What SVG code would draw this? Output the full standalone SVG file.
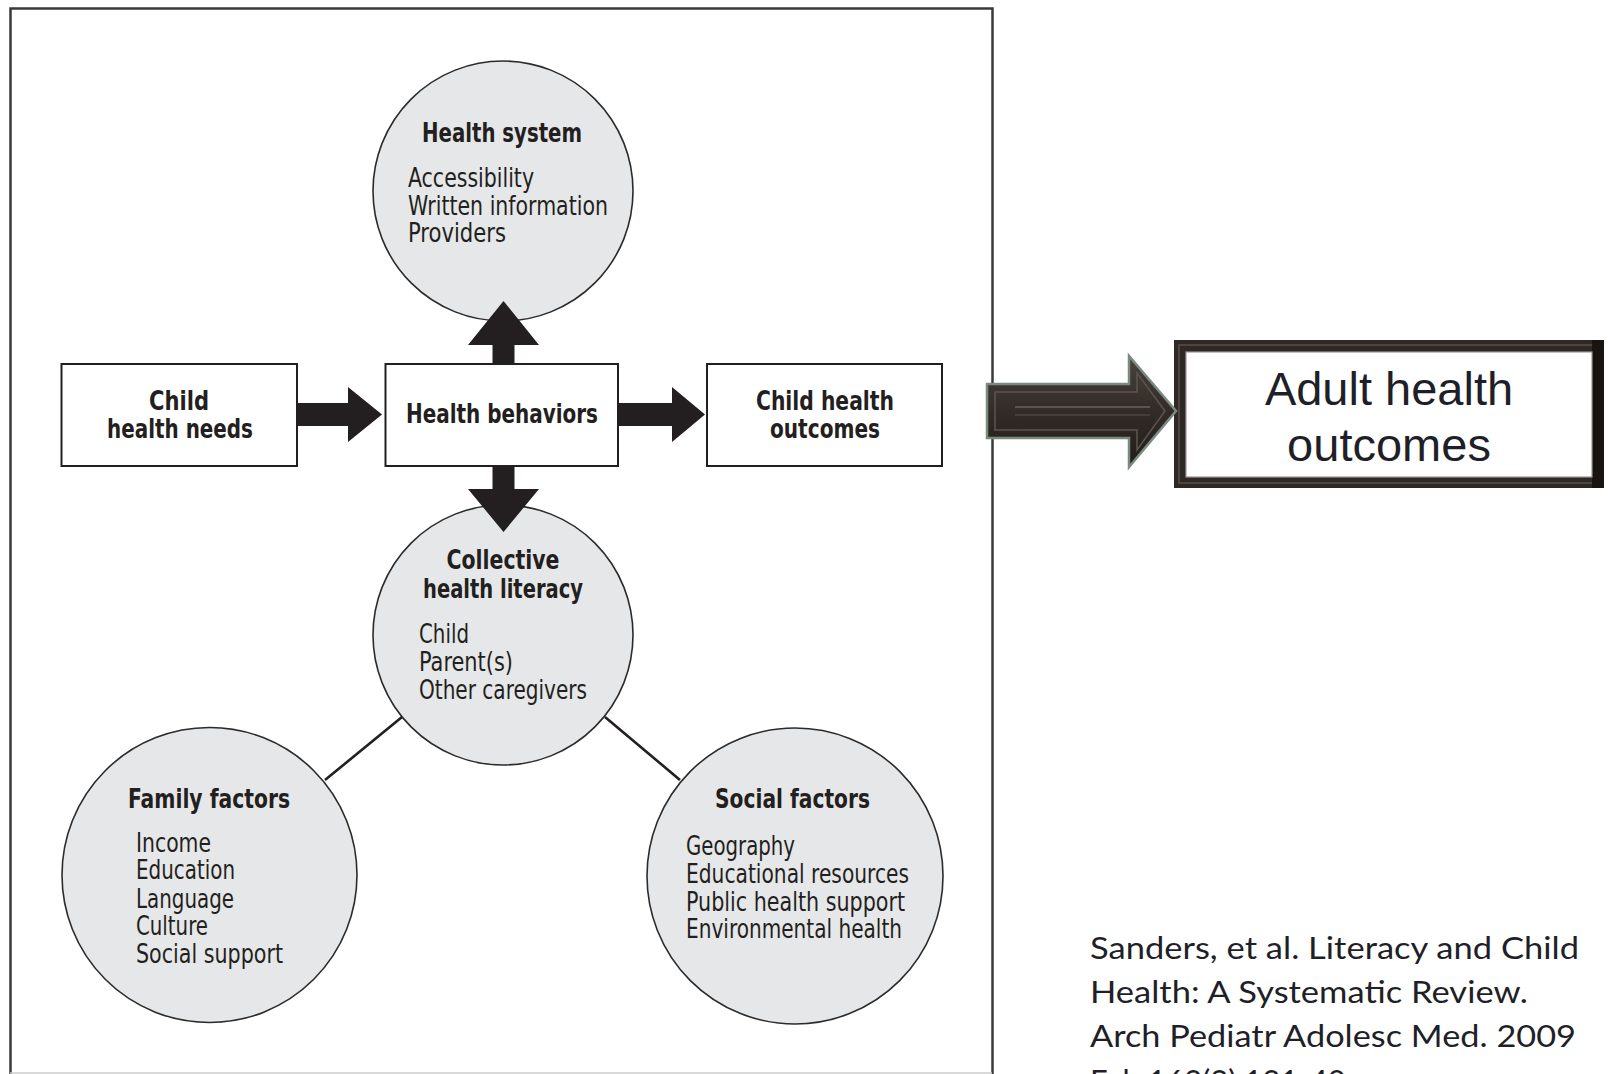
<svg xmlns="http://www.w3.org/2000/svg" width="1608" height="1074" viewBox="0 0 1608 1074">
  <defs>
    <style>
      .frame { fill: none; stroke: #3a3a3a; stroke-width: 2.5; }
      .box { fill: #ffffff; stroke: #231f20; stroke-width: 2; }
      .circ { fill: #e6e7e8; stroke: #2b2b2b; stroke-width: 1.6; }
      .arr { fill: #231f20; }
      .link { stroke: #231f20; stroke-width: 2.6; fill: none; }
      .t { font-family: "Liberation Sans Narrow", "DejaVu Sans Condensed", "Liberation Sans", sans-serif; fill: #231f20; }
      .b { font-weight: bold; font-size: 26px; }
      .r { font-size: 26px; }
      .big { font-family: "Liberation Sans", Arial, sans-serif; font-size: 47px; fill: #1f1f28; }
      .cite { font-family: "Lato", "Open Sans", "Liberation Sans", sans-serif; font-size: 31px; fill: #1f1f28; }
    </style>
    <linearGradient id="shaftG" x1="0" y1="0" x2="0" y2="1">
      <stop offset="0" stop-color="#4a423d"/>
      <stop offset="0.5" stop-color="#332b27"/>
      <stop offset="1" stop-color="#221c19"/>
    </linearGradient>
  </defs>

  <!-- outer frame -->
  <path class="frame" d="M10.5,1074 V8.5 H992.5 V1074"/>
  <line x1="10" y1="1073" x2="992" y2="1073" stroke="#cccccc" stroke-width="1.5"/>

  <g id="health-system">
    <circle class="circ" cx="503" cy="191" r="130"/>
    <text class="t b" x="422" y="142" textLength="160" lengthAdjust="spacingAndGlyphs">Health system</text>
    <text class="t r" x="408" y="187" textLength="126" lengthAdjust="spacingAndGlyphs">Accessibility</text>
    <text class="t r" x="408" y="215" textLength="200" lengthAdjust="spacingAndGlyphs">Written information</text>
    <text class="t r" x="408" y="242" textLength="98" lengthAdjust="spacingAndGlyphs">Providers</text>
  </g>

  <g id="child-health-needs">
    <rect class="box" x="61.5" y="364" width="235.5" height="102"/>
    <text class="t b" x="179" y="410" text-anchor="middle" textLength="60" lengthAdjust="spacingAndGlyphs">Child</text>
    <text class="t b" x="180" y="438" text-anchor="middle" textLength="146" lengthAdjust="spacingAndGlyphs">health needs</text>
  </g>

  <g id="health-behaviors">
    <rect class="box" x="385.5" y="364" width="232.5" height="102"/>
    <text class="t b" x="502" y="423" text-anchor="middle" textLength="192" lengthAdjust="spacingAndGlyphs">Health behaviors</text>
  </g>

  <g id="child-health-outcomes">
    <rect class="box" x="707" y="364" width="235" height="102"/>
    <text class="t b" x="825" y="410" text-anchor="middle" textLength="138" lengthAdjust="spacingAndGlyphs">Child health</text>
    <text class="t b" x="825" y="438" text-anchor="middle" textLength="110" lengthAdjust="spacingAndGlyphs">outcomes</text>
  </g>

  <g id="collective-health-literacy">
    <circle class="circ" cx="503" cy="635" r="130"/>
    <text class="t b" x="503" y="569" text-anchor="middle" textLength="113" lengthAdjust="spacingAndGlyphs">Collective</text>
    <text class="t b" x="503" y="598" text-anchor="middle" textLength="160" lengthAdjust="spacingAndGlyphs">health literacy</text>
    <text class="t r" x="419" y="643" textLength="50" lengthAdjust="spacingAndGlyphs">Child</text>
    <text class="t r" x="419" y="671" textLength="94" lengthAdjust="spacingAndGlyphs">Parent(s)</text>
    <text class="t r" x="419" y="699" textLength="168" lengthAdjust="spacingAndGlyphs">Other caregivers</text>
  </g>

  <g id="family-factors">
    <circle class="circ" cx="209.5" cy="875" r="147.5"/>
    <text class="t b" x="128" y="808" textLength="162" lengthAdjust="spacingAndGlyphs">Family factors</text>
    <text class="t r" x="136" y="852" textLength="75" lengthAdjust="spacingAndGlyphs">Income</text>
    <text class="t r" x="136" y="879" textLength="99" lengthAdjust="spacingAndGlyphs">Education</text>
    <text class="t r" x="136" y="908" textLength="98" lengthAdjust="spacingAndGlyphs">Language</text>
    <text class="t r" x="136" y="935" textLength="72" lengthAdjust="spacingAndGlyphs">Culture</text>
    <text class="t r" x="136" y="963" textLength="147" lengthAdjust="spacingAndGlyphs">Social support</text>
  </g>

  <g id="social-factors">
    <circle class="circ" cx="795" cy="876" r="148"/>
    <text class="t b" x="715" y="808" textLength="155" lengthAdjust="spacingAndGlyphs">Social factors</text>
    <text class="t r" x="686" y="855" textLength="109" lengthAdjust="spacingAndGlyphs">Geography</text>
    <text class="t r" x="686" y="883" textLength="223" lengthAdjust="spacingAndGlyphs">Educational resources</text>
    <text class="t r" x="686" y="911" textLength="219" lengthAdjust="spacingAndGlyphs">Public health support</text>
    <text class="t r" x="686" y="938" textLength="216" lengthAdjust="spacingAndGlyphs">Environmental health</text>
  </g>

  <g id="adult-health-outcomes">
    <rect x="1174" y="340" width="430" height="148" fill="#2f2825"/>
    <rect x="1179" y="345" width="420" height="138" fill="none" stroke="#4d4541" stroke-width="2"/>
    <rect x="1592" y="340" width="12" height="148" fill="#1a1411"/>
    <rect x="1186" y="352" width="406" height="125" fill="#ffffff" stroke="#9a9a9a" stroke-width="1.2"/>
    <text class="big" x="1389" y="405" text-anchor="middle">Adult health</text>
    <text class="big" x="1389" y="461" text-anchor="middle">outcomes</text>
  </g>

  <g id="citation">
    <text class="cite" x="1090" y="959" textLength="489" lengthAdjust="spacingAndGlyphs">Sanders, et al. Literacy and Child</text>
    <text class="cite" x="1090" y="1003" textLength="438" lengthAdjust="spacingAndGlyphs">Health: A Systematic Review.</text>
    <text class="cite" x="1090" y="1047" textLength="486" lengthAdjust="spacingAndGlyphs">Arch Pediatr Adolesc Med. 2009</text>
    <text class="cite" x="1090" y="1092">Feb;163(2):131-40.</text>
  </g>

  <g id="connectors">
    <line class="link" x1="402" y1="717" x2="325" y2="780"/>
    <line class="link" x1="605" y1="717" x2="680" y2="780"/>
    <polygon class="arr" points="492.5,365 492.5,345 468,345 503.5,301 539,345 514.5,345 514.5,365"/>
    <polygon class="arr" points="492.5,465 492.5,489 468,489 503.5,532 539,489 514.5,489 514.5,465"/>
    <polygon class="arr" points="297,403 348,403 348,387 382,414.5 348,442 348,426 297,426"/>
    <polygon class="arr" points="618,403 672,403 672,387 705,414.5 672,442 672,426 618,426"/>
    <g id="big-arrow">
      <polygon points="987,384 1129,384 1129,356 1176,411 1129,467 1129,438 987,438" fill="url(#shaftG)" stroke="#7b8a80" stroke-width="2.5"/>
      <polygon points="995,392 1137,392 1137,373 1165,411 1137,450 1137,430 995,430" fill="none" stroke="#5c5450" stroke-width="1.5"/>
      <line x1="1015" y1="407" x2="1150" y2="407" stroke="#6a625d" stroke-width="1.5"/>
      <line x1="1015" y1="415" x2="1150" y2="415" stroke="#5a524d" stroke-width="1.2"/>
    </g>
  </g>
</svg>
